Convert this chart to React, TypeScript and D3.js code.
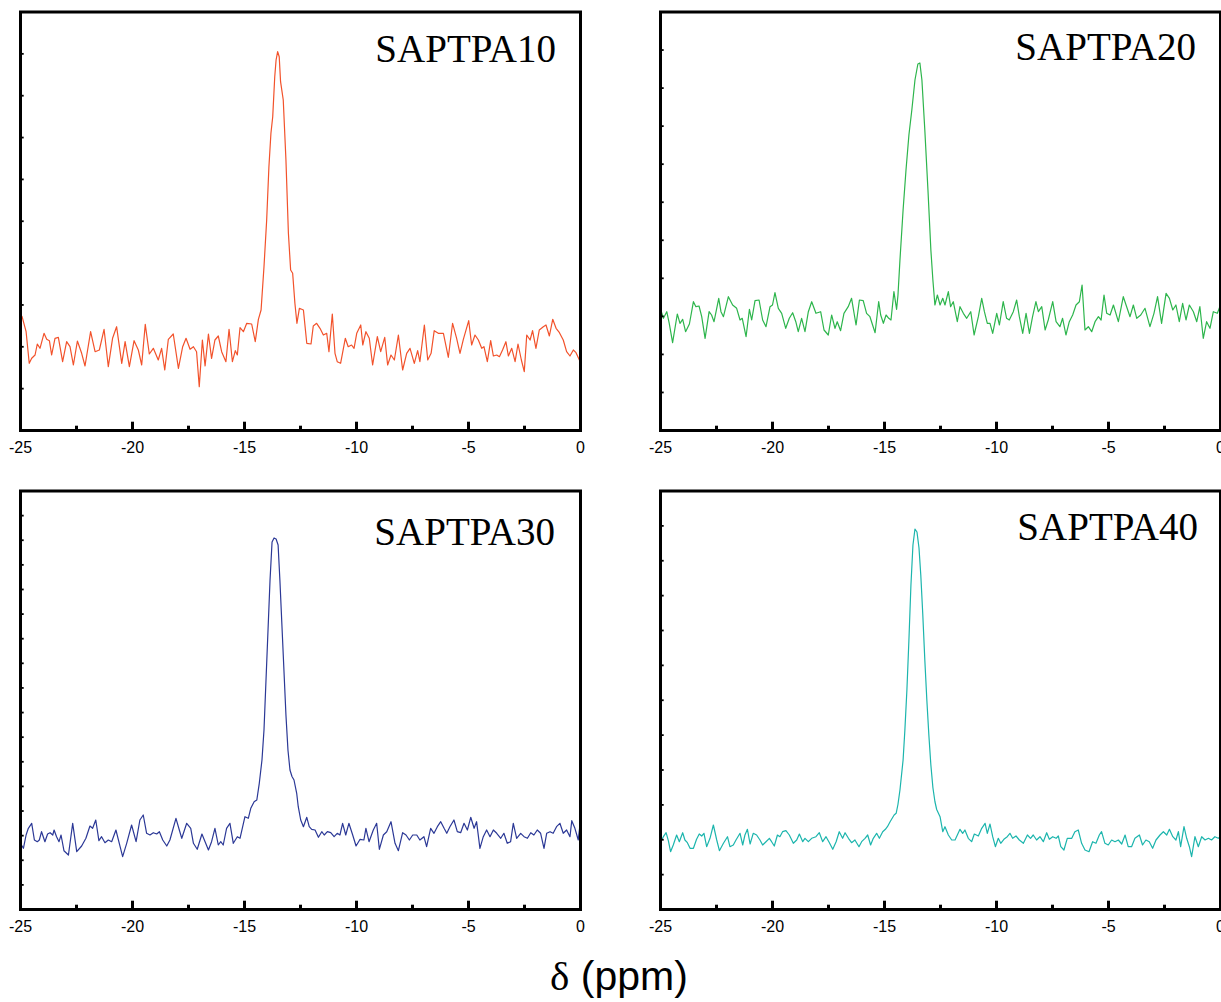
import React from "react";
import * as d3 from "d3";

// ---------- data (ppm, intensity a.u.) ----------
const panelLabels = ["SAPTPA10", "SAPTPA20", "SAPTPA30", "SAPTPA40"];
const panelColors = ["#f2522b", "#2db54c", "#2b3896", "#1cb5ad"];
const xMajorTicks = [-25, -20, -15, -10, -5, 0];
const xMinorTicks = [-22.5, -17.5, -12.5, -7.5, -2.5];
const yTickDivisions = [10, 11, 17, 12];
const axisSymbol = "δ";
const axisUnit = " (ppm)";

const spec10: [number, number][] = [
  [-25, 116], [-24.93, 113.8], [-24.75, 98.8], [-24.61, 67.2], [-24.5, 72.2], [-24.35, 75.5], [-24.25, 86.5], [-24.13, 82.2], [-23.95, 97.2], [-23.83, 91.2], [-23.71, 89.8], [-23.61, 75.5], [-23.46, 92.2], [-23.31, 93.2], [-23.12, 68.8], [-22.94, 88.8], [-22.79, 83.8], [-22.64, 65.5], [-22.46, 89.5], [-22.27, 77.2], [-22.12, 64.5], [-21.87, 98.8], [-21.67, 78.8], [-21.48, 80.5], [-21.27, 101.2], [-21.08, 63.8], [-20.89, 92.2], [-20.71, 103.8], [-20.48, 67.2], [-20.33, 88.8], [-20.14, 63.8], [-19.93, 89.8], [-19.74, 80.5], [-19.59, 65.5], [-19.43, 106.2], [-19.25, 76.5], [-19.07, 82.2], [-18.85, 70.5], [-18.7, 82.2], [-18.56, 60.5], [-18.4, 91.2], [-18.18, 96.5], [-17.95, 62.2], [-17.76, 83.8], [-17.61, 92.2], [-17.43, 81.2], [-17.28, 83.8], [-17.14, 78.8], [-17.02, 43.8], [-16.88, 90.5], [-16.76, 64.5], [-16.61, 96.5], [-16.47, 72.2], [-16.32, 90.5], [-16.17, 94.5], [-16.02, 78.8], [-15.83, 68.8], [-15.69, 101.2], [-15.54, 68.8], [-15.41, 79.8], [-15.32, 75.5], [-15.2, 102.8], [-15.05, 98.8], [-14.9, 107.2], [-14.68, 106.5], [-14.52, 88.8], [-14.38, 111.2], [-14.26, 120.5], [-14.13, 163.8], [-14.01, 210.5], [-13.91, 263.8], [-13.82, 297.2], [-13.74, 313.8], [-13.65, 353.8], [-13.59, 370.5], [-13.52, 378.8], [-13.45, 373.8], [-13.39, 348.8], [-13.27, 330.5], [-13.15, 270.5], [-13.04, 197.2], [-12.94, 160.5], [-12.85, 157.2], [-12.75, 127.2], [-12.66, 107.2], [-12.55, 122.2], [-12.37, 120.5], [-12.22, 87.2], [-12.03, 86.5], [-11.93, 104.5], [-11.78, 107.2], [-11.63, 102.2], [-11.48, 95.5], [-11.33, 97.2], [-11.23, 78.8], [-11.08, 116.5], [-10.96, 77.2], [-10.86, 68.8], [-10.71, 67.2], [-10.5, 92.2], [-10.37, 83.8], [-10.22, 85.5], [-10.11, 82.2], [-9.99, 97.2], [-9.81, 105.5], [-9.72, 85.5], [-9.58, 98.8], [-9.43, 92.2], [-9.28, 65.5], [-9.07, 93.8], [-8.92, 78.8], [-8.74, 93.2], [-8.61, 65.5], [-8.46, 75.5], [-8.31, 70.5], [-8.13, 95.5], [-7.94, 60.5], [-7.76, 77.2], [-7.61, 82.2], [-7.42, 67.2], [-7.27, 79.8], [-7.17, 68.8], [-6.97, 105.5], [-6.82, 70.5], [-6.67, 77.2], [-6.53, 99.8], [-6.35, 97.2], [-6.12, 97.2], [-5.9, 73.2], [-5.71, 107.2], [-5.53, 92.2], [-5.38, 77.2], [-5.23, 91.2], [-4.99, 109.8], [-4.86, 85.5], [-4.71, 95.5], [-4.56, 90.5], [-4.41, 82.2], [-4.31, 83.8], [-4.16, 68.8], [-4.01, 89.8], [-3.89, 74.5], [-3.74, 75.5], [-3.62, 73.8], [-3.48, 80.5], [-3.33, 88.8], [-3.22, 74.5], [-3.07, 82.2], [-2.92, 68.8], [-2.79, 86.5], [-2.64, 70.5], [-2.51, 58.8], [-2.4, 95.5], [-2.25, 90.5], [-2.14, 99.8], [-1.99, 82.2], [-1.84, 100.5], [-1.66, 103.8], [-1.54, 105.5], [-1.39, 94.5], [-1.24, 111.2], [-1.09, 102.2], [-0.94, 97.8], [-0.77, 90.5], [-0.62, 78.8], [-0.47, 74.5], [-0.32, 80.5], [-0.2, 77.8], [-0.05, 70.5], [0, 68],
];

const spec20: [number, number][] = [
  [-25, 121.2], [-24.87, 112.2], [-24.72, 118.8], [-24.61, 107.2], [-24.46, 87.8], [-24.25, 116.5], [-24.13, 107.2], [-24.01, 111.2], [-23.88, 98.8], [-23.71, 106.5], [-23.53, 128.8], [-23.42, 123.8], [-23.28, 124.5], [-23.16, 113.8], [-23.01, 92.2], [-22.83, 118.8], [-22.72, 115.5], [-22.61, 108.8], [-22.4, 132.2], [-22.3, 118.8], [-22.19, 113.8], [-21.97, 133.8], [-21.78, 125.5], [-21.6, 122.2], [-21.45, 110.5], [-21.35, 112.2], [-21.18, 93.8], [-21.03, 121.2], [-20.93, 110.5], [-20.78, 129.8], [-20.6, 130.5], [-20.44, 110.5], [-20.29, 103.8], [-20.11, 123.8], [-20, 125.5], [-19.89, 137.8], [-19.74, 122.2], [-19.59, 117.2], [-19.41, 102.2], [-19.25, 112.2], [-19.1, 117.8], [-18.96, 108.8], [-18.85, 98.8], [-18.7, 112.2], [-18.55, 98.8], [-18.4, 118.8], [-18.25, 128.8], [-18.06, 117.2], [-17.85, 118.8], [-17.7, 100.5], [-17.51, 95.5], [-17.36, 115.5], [-17.21, 102.2], [-17.11, 108.8], [-16.96, 99.8], [-16.81, 117.2], [-16.62, 123.8], [-16.47, 132.2], [-16.27, 105.5], [-16.12, 130.5], [-15.95, 129.8], [-15.8, 117.2], [-15.65, 113.8], [-15.42, 97.8], [-15.26, 128.8], [-15.17, 115.5], [-15.05, 107.2], [-14.93, 115.5], [-14.81, 112.2], [-14.71, 110.5], [-14.58, 138.8], [-14.46, 121.2], [-14.4, 135], [-14.31, 170.5], [-14.17, 220.5], [-14.04, 260.5], [-13.91, 295.5], [-13.78, 320.5], [-13.64, 350.5], [-13.51, 366.5], [-13.42, 367.5], [-13.33, 350.5], [-13.2, 300.5], [-13.06, 240.5], [-12.93, 180.5], [-12.84, 150.5], [-12.75, 125.5], [-12.64, 135.5], [-12.52, 125.5], [-12.4, 132.2], [-12.3, 125.5], [-12.15, 138.8], [-12.05, 123.8], [-11.93, 128.8], [-11.75, 108.8], [-11.63, 123.8], [-11.48, 117.2], [-11.33, 112.2], [-11.15, 118.8], [-11, 95.5], [-10.81, 113.8], [-10.66, 132.2], [-10.54, 118.8], [-10.41, 107.2], [-10.29, 107.2], [-10.17, 97.2], [-9.99, 117.2], [-9.87, 105.5], [-9.7, 128.8], [-9.55, 112.2], [-9.43, 110.5], [-9.25, 118.8], [-9.1, 130.5], [-8.98, 113.8], [-8.83, 97.2], [-8.68, 117.2], [-8.53, 97.2], [-8.39, 113.8], [-8.24, 128.8], [-8.13, 118.8], [-7.98, 123.8], [-7.83, 100.5], [-7.69, 110.5], [-7.49, 128.8], [-7.34, 108.8], [-7.17, 103.8], [-7.05, 112.2], [-6.9, 95.5], [-6.75, 108.8], [-6.6, 115.5], [-6.45, 125.5], [-6.3, 128.8], [-6.18, 145.5], [-6.05, 100.5], [-5.9, 103.8], [-5.75, 98.8], [-5.6, 108.8], [-5.45, 113.8], [-5.33, 110.5], [-5.2, 135.5], [-5.08, 117.2], [-4.93, 115.5], [-4.78, 125.5], [-4.56, 108.8], [-4.34, 133.8], [-4.19, 123.8], [-4.04, 113.8], [-3.89, 125.5], [-3.74, 112.2], [-3.56, 115.5], [-3.37, 122.2], [-3.15, 103.8], [-2.97, 117.2], [-2.81, 133.8], [-2.63, 107.2], [-2.43, 137.2], [-2.28, 132.2], [-2.13, 120.5], [-1.99, 125.5], [-1.84, 108.8], [-1.69, 127.2], [-1.54, 110.5], [-1.39, 125.5], [-1.21, 118.8], [-1.06, 108.8], [-0.92, 123.8], [-0.77, 92.2], [-0.62, 108.8], [-0.47, 102.2], [-0.32, 118.8], [-0.14, 117.2], [0, 125.5],
];

const spec30: [number, number][] = [
  [-25, 66], [-24.87, 61.2], [-24.75, 74.5], [-24.65, 81.2], [-24.5, 86.2], [-24.38, 69.5], [-24.25, 67.8], [-24.16, 69.5], [-24.06, 77.8], [-23.91, 67.8], [-23.79, 75.5], [-23.68, 76.8], [-23.56, 74.5], [-23.5, 79.5], [-23.39, 72.8], [-23.28, 67.8], [-23.19, 74.5], [-23.06, 58.8], [-22.86, 54.5], [-22.67, 86.2], [-22.49, 57.8], [-22.27, 63.5], [-22.08, 71.2], [-21.9, 83.5], [-21.78, 81.2], [-21.64, 89.5], [-21.5, 68.8], [-21.38, 72.8], [-21.23, 66.8], [-21.08, 69.5], [-20.93, 67.8], [-20.74, 79.5], [-20.59, 66.2], [-20.44, 52.8], [-20.26, 66.2], [-20.04, 84.5], [-19.84, 67.8], [-19.67, 89.5], [-19.52, 94.5], [-19.37, 76.2], [-19.22, 74.5], [-19.07, 76.8], [-18.92, 75.5], [-18.8, 77.8], [-18.65, 69.5], [-18.47, 63.5], [-18.33, 69.5], [-18.06, 91.2], [-17.91, 79.5], [-17.8, 71.2], [-17.58, 86.2], [-17.4, 81.2], [-17.28, 66.2], [-17.11, 60.2], [-16.9, 75.5], [-16.76, 67.8], [-16.61, 59.5], [-16.47, 67.8], [-16.32, 81.2], [-16.17, 64.5], [-16.06, 67.8], [-15.95, 64.5], [-15.8, 81.2], [-15.65, 86.2], [-15.5, 66.2], [-15.32, 72.8], [-15.2, 71.2], [-14.98, 92.8], [-14.83, 91.2], [-14.72, 101.2], [-14.57, 107.8], [-14.45, 109.5], [-14.34, 126.2], [-14.22, 149.5], [-14.13, 179.5], [-14.04, 229.5], [-13.95, 279.5], [-13.86, 329.5], [-13.77, 367.5], [-13.68, 371.5], [-13.59, 370.5], [-13.5, 364.5], [-13.42, 329.5], [-13.33, 284.5], [-13.24, 239.5], [-13.15, 194.5], [-13.06, 159.5], [-12.97, 139.5], [-12.88, 133], [-12.79, 129.5], [-12.67, 116.2], [-12.6, 102.8], [-12.49, 89.5], [-12.37, 82.8], [-12.22, 92.2], [-12.11, 82.8], [-12, 80.2], [-11.85, 79.5], [-11.7, 72.2], [-11.55, 77.8], [-11.44, 74.5], [-11.3, 77.8], [-11.15, 76.8], [-11, 72.8], [-10.86, 76.2], [-10.74, 74.5], [-10.62, 86.2], [-10.48, 74.5], [-10.34, 86.2], [-10.17, 74.5], [-10.02, 63.5], [-9.84, 70.2], [-9.67, 69.5], [-9.58, 81.2], [-9.44, 67.8], [-9.25, 79.5], [-9.1, 86.2], [-8.98, 60.2], [-8.8, 74.5], [-8.65, 77.8], [-8.46, 87.8], [-8.28, 66.2], [-8.13, 58.8], [-7.94, 76.8], [-7.79, 74.5], [-7.64, 69.5], [-7.49, 74.5], [-7.31, 74.5], [-7.17, 69.5], [-6.99, 72.8], [-6.87, 62.8], [-6.69, 81.2], [-6.54, 76.2], [-6.39, 82.8], [-6.24, 87.8], [-6.09, 81.2], [-5.97, 76.2], [-5.83, 82.8], [-5.65, 89.5], [-5.5, 77.8], [-5.35, 76.8], [-5.2, 86.2], [-5.05, 79.5], [-4.9, 92.2], [-4.75, 81.2], [-4.64, 87.8], [-4.49, 61.2], [-4.34, 72.8], [-4.19, 79.5], [-4.04, 72.8], [-3.89, 79.5], [-3.74, 76.2], [-3.56, 71.2], [-3.42, 76.2], [-3.27, 66.2], [-3.12, 67.8], [-3, 86.2], [-2.85, 71.2], [-2.67, 76.2], [-2.52, 72.8], [-2.37, 71.2], [-2.22, 76.8], [-2.08, 74.5], [-1.93, 79.5], [-1.78, 76.2], [-1.63, 61.2], [-1.51, 76.2], [-1.36, 77.8], [-1.22, 76.2], [-1.07, 82.8], [-0.92, 86.2], [-0.77, 76.2], [-0.62, 79.5], [-0.47, 72.8], [-0.39, 88.8], [-0.25, 81.2], [-0.1, 69.5], [0, 89.5],
];

const spec40: [number, number][] = [
  [-25, 67.8], [-24.87, 72.8], [-24.75, 76.8], [-24.65, 68.8], [-24.55, 57.8], [-24.43, 64.5], [-24.28, 74.5], [-24.16, 67.8], [-24.01, 76.8], [-23.91, 69.5], [-23.8, 66.8], [-23.68, 61.2], [-23.53, 61.2], [-23.39, 70.2], [-23.27, 75.5], [-23.16, 73.5], [-23.06, 76.2], [-22.94, 62.8], [-22.79, 71.2], [-22.64, 84.5], [-22.49, 69.5], [-22.37, 58.8], [-22.19, 66.2], [-22.01, 72.8], [-21.9, 62.8], [-21.75, 64.5], [-21.63, 69.5], [-21.45, 76.2], [-21.33, 64.5], [-21.23, 74.5], [-21.12, 80.2], [-21, 65.5], [-20.86, 76.2], [-20.71, 74.5], [-20.56, 69.5], [-20.44, 64.5], [-20.29, 67.8], [-20.14, 71.2], [-20.04, 67.8], [-19.92, 63.5], [-19.78, 74.5], [-19.67, 72.8], [-19.55, 77.8], [-19.4, 78.8], [-19.25, 74.5], [-19.07, 66.2], [-18.92, 69.5], [-18.8, 75.5], [-18.65, 67.8], [-18.55, 71.2], [-18.4, 67.8], [-18.25, 71.2], [-18.06, 72.8], [-17.91, 76.8], [-17.76, 67.8], [-17.61, 72.8], [-17.46, 66.8], [-17.31, 60.2], [-17.16, 67.8], [-17.02, 77.8], [-16.87, 71.2], [-16.76, 76.8], [-16.61, 71.2], [-16.47, 66.8], [-16.32, 69.5], [-16.14, 62.8], [-16.02, 67.8], [-15.87, 71.2], [-15.75, 74.5], [-15.62, 64.5], [-15.5, 71.2], [-15.35, 76.2], [-15.23, 71.2], [-15.08, 77.8], [-14.96, 80.2], [-14.87, 82.8], [-14.75, 87.8], [-14.57, 94.5], [-14.48, 96.2], [-14.4, 105], [-14.31, 119.5], [-14.17, 149.5], [-14.09, 179.5], [-14, 219.5], [-13.91, 269.5], [-13.82, 324.5], [-13.73, 364.5], [-13.64, 380.5], [-13.55, 377.5], [-13.46, 361.5], [-13.38, 334.5], [-13.29, 294.5], [-13.2, 249.5], [-13.11, 209.5], [-13.02, 174.5], [-12.93, 144.5], [-12.84, 122], [-12.75, 108], [-12.67, 100], [-12.52, 92.8], [-12.4, 77.8], [-12.3, 82.8], [-12.15, 74.5], [-12, 69.5], [-11.85, 69.5], [-11.63, 80.2], [-11.51, 76.2], [-11.41, 79.5], [-11.26, 71.2], [-11.11, 67.8], [-10.99, 75.5], [-10.81, 73.5], [-10.66, 81.2], [-10.51, 86.2], [-10.41, 76.2], [-10.29, 85.5], [-10.17, 72.8], [-10.05, 62.8], [-9.92, 71.2], [-9.81, 66.2], [-9.67, 70.2], [-9.52, 72.8], [-9.4, 76.2], [-9.28, 71.2], [-9.13, 73.5], [-8.98, 69.5], [-8.8, 66.2], [-8.62, 74.5], [-8.48, 71.2], [-8.36, 74.5], [-8.21, 69.5], [-8.06, 72.8], [-7.91, 67.8], [-7.76, 76.8], [-7.64, 70.2], [-7.49, 72.8], [-7.34, 71.2], [-7.24, 73.5], [-7.13, 62.8], [-6.99, 59.5], [-6.84, 71.2], [-6.64, 71.2], [-6.5, 77.8], [-6.35, 79.5], [-6.2, 66.2], [-6.05, 59.5], [-5.87, 57.8], [-5.71, 67.8], [-5.56, 66.2], [-5.41, 74.5], [-5.31, 77.8], [-5.16, 66.2], [-5.01, 64.5], [-4.86, 69.5], [-4.71, 67.8], [-4.56, 69.5], [-4.41, 65.5], [-4.26, 74.5], [-4.12, 62.8], [-3.97, 62.8], [-3.82, 71.2], [-3.62, 74.5], [-3.48, 64.5], [-3.33, 69.5], [-3.18, 67.8], [-3.03, 61.2], [-2.88, 69.5], [-2.7, 74.5], [-2.55, 77.8], [-2.4, 74.5], [-2.28, 80.2], [-2.13, 72.8], [-1.99, 69.5], [-1.88, 77.8], [-1.78, 62.8], [-1.63, 82.8], [-1.51, 71.2], [-1.39, 62.8], [-1.29, 52.8], [-1.14, 72.8], [-0.99, 62.8], [-0.84, 72.8], [-0.69, 69.5], [-0.54, 71.2], [-0.4, 69.5], [-0.25, 72.8], [-0.1, 71.2], [0, 72.8],
];

const spectra = [spec10, spec20, spec30, spec40];

// ---------- layout ----------
const W = 1221;
const H = 1002;
const PW = 560;
const PH = 418.5;
const origins = [
  [20.5, 12],
  [660.5, 12],
  [20.5, 491],
  [660.5, 491],
];
const titlePos = [
  [556, 62],
  [1196, 60],
  [555, 545],
  [1198, 540],
];
const Y_MAX = 418.5;

function Panel({ idx }: { idx: number }) {
  const [ox, oy] = origins[idx];
  const x = d3.scaleLinear().domain([-25, 0]).range([ox, ox + PW]);
  const y = d3.scaleLinear().domain([0, Y_MAX]).range([oy + PH, oy]);
  const line = d3
    .line<[number, number]>()
    .x((d) => x(d[0]))
    .y((d) => y(d[1]));
  const n = yTickDivisions[idx];
  const yTicks = d3.range(1, n).map((i) => (i * Y_MAX) / n);
  const bottom = oy + PH;
  return (
    <g>
      <path d={line(spectra[idx]) || ""} fill="none" stroke={panelColors[idx]} strokeWidth={1.2} strokeLinejoin="round" />
      {yTicks.map((t, i) => (
        <line key={"yt" + i} x1={ox} x2={ox + 3.2} y1={y(t)} y2={y(t)} stroke="#000" strokeWidth={1.8} />
      ))}
      {xMajorTicks.map((t) => (
        <line key={"xM" + t} x1={x(t)} x2={x(t)} y1={bottom} y2={bottom - 8.8} stroke="#000" strokeWidth={3} />
      ))}
      {xMinorTicks.map((t) => (
        <line key={"xm" + t} x1={x(t)} x2={x(t)} y1={bottom} y2={bottom - 4.8} stroke="#000" strokeWidth={3} />
      ))}
      <rect x={ox} y={oy} width={PW} height={PH} fill="none" stroke="#000" strokeWidth={3} />
      {xMajorTicks.map((t) => (
        <text
          key={"xl" + t}
          x={x(t)}
          y={bottom + 22.5}
          textAnchor="middle"
          fontFamily="'Liberation Sans', Arial, sans-serif"
          fontSize={16}
          fill="#000"
        >
          {t}
        </text>
      ))}
      <text
        x={titlePos[idx][0]}
        y={titlePos[idx][1]}
        textAnchor="end"
        fontFamily="'Liberation Serif', 'Times New Roman', serif"
        fontSize={39}
        fill="#000"
      >
        {panelLabels[idx]}
      </text>
    </g>
  );
}

export default function App() {
  return (
    <svg
      width={W}
      height={H}
      viewBox={`0 0 ${W} ${H}`}
      style={{ position: "absolute", left: 0, top: 0, background: "#fff" }}
    >
      <rect x={0} y={0} width={W} height={H} fill="#fff" />
      {[0, 1, 2, 3].map((i) => (
        <Panel key={i} idx={i} />
      ))}
      <text
        x={619}
        y={990}
        textAnchor="middle"
        fontFamily="'Liberation Sans', Arial, sans-serif"
        fontSize={41}
        fill="#000"
      >
        <tspan fontFamily="'Liberation Serif', 'Times New Roman', serif">{axisSymbol}</tspan>
        {axisUnit}
      </text>
    </svg>
  );
}
